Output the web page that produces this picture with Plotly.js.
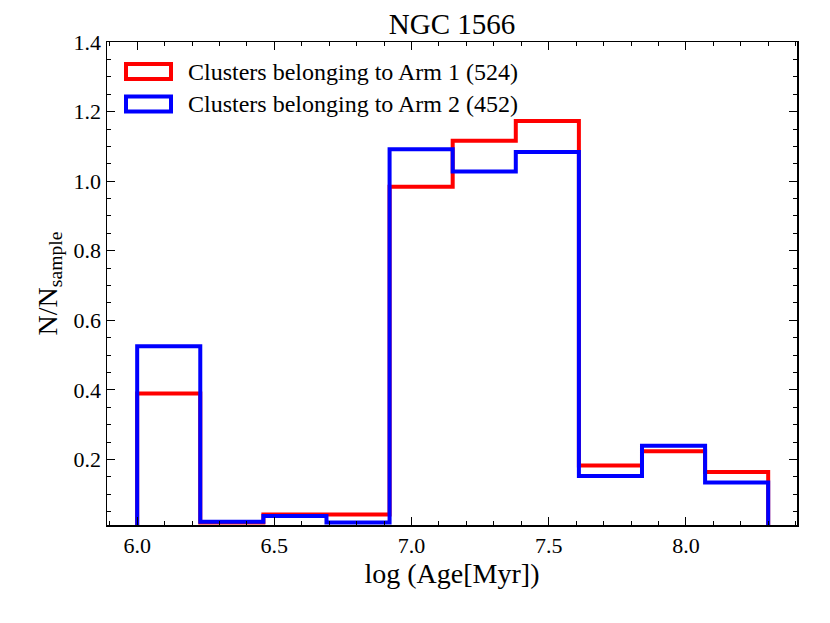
<!DOCTYPE html>
<html>
<head>
<meta charset="utf-8">
<script src="https://cdn.plot.ly/plotly-3.0.1.min.js"></script>
<style>
  body { margin: 0; background: #fff; }
  #plotDiv { width: 830px; height: 623px; }
</style>
</head>
<body>
<div id="plotDiv"></div>
<script>
'use strict';

// histogram bin edges, log(Age[Myr])
const binEdges = [6.0, 6.23, 6.46, 6.69, 6.92, 7.15, 7.38, 7.61, 7.84, 8.07, 8.30];

// normalised counts per bin
const arm1 = [0.390, 0.019, 0.042, 0.042, 0.984, 1.116, 1.173, 0.183, 0.224, 0.164];
const arm2 = [0.526, 0.021, 0.038, 0.019, 1.092, 1.028, 1.084, 0.153, 0.240, 0.134];

const seriesNames = ['Clusters belonging to Arm 1 (524)', 'Clusters belonging to Arm 2 (452)'];
const seriesColors = ['#ff0000', '#0000ff'];

const FONT = 'Liberation Serif, DejaVu Serif, serif';
const TICKSIZE = 22;

function stepTrace(edges, vals, name, color){
    // outline like histtype='step': up from zero, across the bins, back down
    let xs = [edges[0]];
    let ys = [0];
    for (var i = 0; i < vals.length; i++) {
        xs.push(edges[i]);
        ys.push(vals[i]);
    }
    xs.push(edges[edges.length - 1]);
    ys.push(vals[vals.length - 1]);
    xs.push(edges[edges.length - 1]);
    ys.push(0);
    return {
        x: xs, y: ys, name: name,
        type: 'scatter', mode: 'lines',
        line: {shape: 'hv', color: color, width: 4},
        showlegend: false, hoverinfo: 'skip',
        cliponaxis: true
    };
}

// plot box in pixels (inside the 830x623 page)
const L = 107, R = 797, T = 42, B = 525;
function px(x){ return (x - L) / (R - L); }
function py(y){ return (B - y) / (B - T); }

var shapes = [];
var annotations = [];
for (var k = 0; k < seriesNames.length; k++) {
    var yc = 71.5 + k * 32.5;
    shapes.push({
        type: 'rect', xref: 'paper', yref: 'paper',
        x0: px(126), x1: px(171), y0: py(yc - 7.5), y1: py(yc + 7.5),
        line: {color: seriesColors[k], width: 4}, fillcolor: 'rgba(0,0,0,0)'
    });
    annotations.push({
        xref: 'paper', yref: 'paper', x: px(186), y: py(yc),
        xanchor: 'left', yanchor: 'middle', showarrow: false,
        text: seriesNames[k], font: {family: FONT, size: 24, color: '#000'}
    });
}

var data = [
    stepTrace(binEdges, arm1, seriesNames[0], seriesColors[0]),
    stepTrace(binEdges, arm2, seriesNames[1], seriesColors[1])
];

var layout = {
    width: 830, height: 623,
    font: {family: FONT, size: TICKSIZE, color: '#000'},
    paper_bgcolor: '#fff', plot_bgcolor: '#fff',
    margin: {l: L, r: 830 - R, t: T, b: 623 - B, pad: 0},
    title: {text: 'NGC 1566', font: {family: FONT, size: 29, color: '#000'},
            x: 0.5, xref: 'paper', y: 1 - 24 / 623, yanchor: 'middle'},
    xaxis: {
        showgrid: false, zeroline: false,
        showline: true, linecolor: '#000', linewidth: 1.5, mirror: 'allticks',
        ticks: 'inside', ticklen: 8, tickwidth: 1, tickcolor: '#000',
        tickfont: {family: FONT, size: TICKSIZE, color: '#000'},
        tickformat: '.1f',
        range: [5.89, 8.405], tick0: 6.0, dtick: 0.5,
        minor: {ticks: 'inside', ticklen: 4, dtick: 0.1, tick0: 6.0, tickcolor: '#000'},
        title: {text: 'log (Age[Myr])', font: {family: FONT, size: 28, color: '#000'}, standoff: 4}
    },
    yaxis: {
        showgrid: false, zeroline: false,
        showline: true, linecolor: '#000', linewidth: 1.5, mirror: 'allticks',
        ticks: 'inside', ticklen: 8, tickwidth: 1, tickcolor: '#000',
        tickfont: {family: FONT, size: TICKSIZE, color: '#000'},
        tickformat: '.1f',
        range: [0.012, 1.4], tick0: 0, dtick: 0.2,
        minor: {ticks: 'inside', ticklen: 4, dtick: 0.05, tick0: 0, tickcolor: '#000'},
        title: {text: 'N/N<sub>sample</sub>', font: {family: FONT, size: 28, color: '#000'}, standoff: 8}
    },
    shapes: shapes,
    annotations: annotations,
    showlegend: false
};

Plotly.newPlot('plotDiv', data, layout, {staticPlot: true, displayModeBar: false}).then(function(gd){
    // make sure the tick labels come out in the serif face at the wanted size
    gd.querySelectorAll('.xtick text, .ytick text').forEach(function(t){
        t.style.fontFamily = FONT;
        t.style.fontSize = TICKSIZE + 'px';
    });
});
</script>
</body>
</html>
